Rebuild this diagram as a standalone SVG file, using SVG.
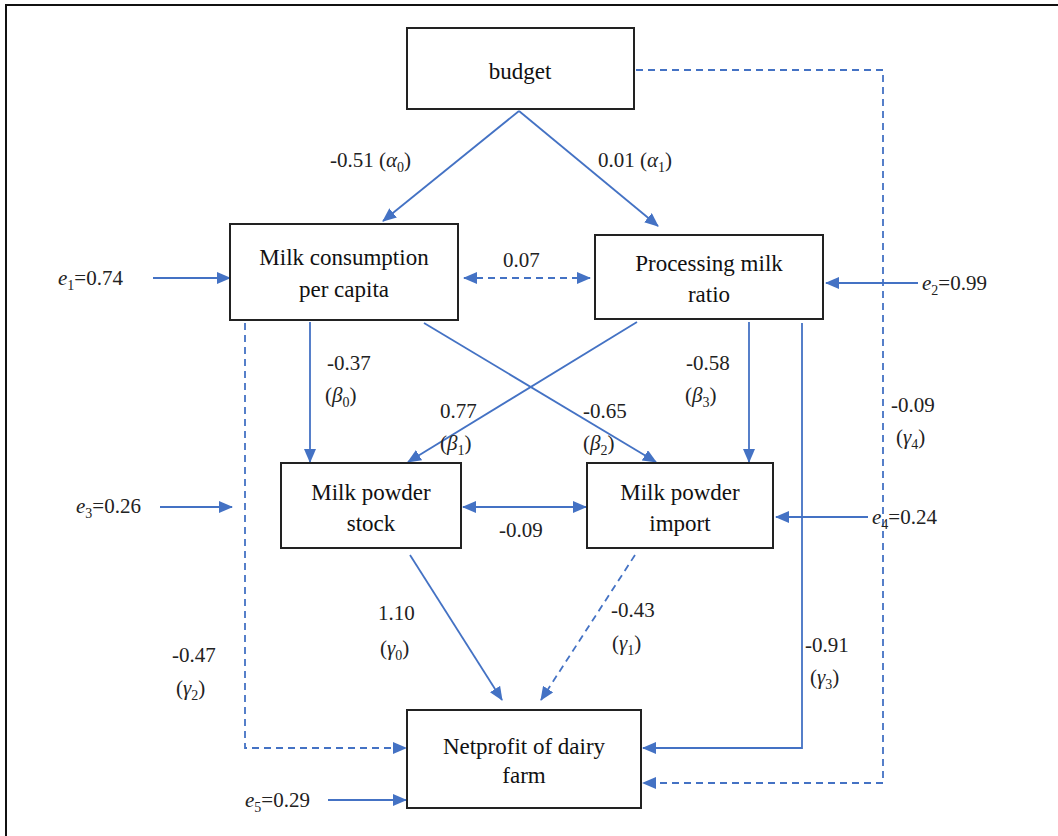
<svg xmlns="http://www.w3.org/2000/svg" width="1058" height="836" viewBox="0 0 1058 836">
<style>
.box{fill:#fff;stroke:#222;stroke-width:2}
.nt{font-family:'Liberation Serif','Times New Roman',serif;font-size:23px;fill:#111;text-anchor:middle}
.lb{font-family:'Liberation Serif','Times New Roman',serif;font-size:21px;fill:#222}
.it{font-style:italic}
.ln{fill:none;stroke:#4472C4;stroke-width:1.8}
.ds{stroke-dasharray:7,5}
</style>
<defs>
<marker id="ah" viewBox="0 0 14 12" refX="13" refY="6" markerWidth="14" markerHeight="12" markerUnits="userSpaceOnUse" orient="auto-start-reverse">
<path d="M0,0 L14,6 L0,12 Z" fill="#4472C4"/>
</marker>
</defs>
<rect width="1058" height="836" fill="#fff"/>
<path d="M6,836 V5 H1058" fill="none" stroke="#111" stroke-width="2"/>

<g id="connectors">
<line class="ln" x1="519" y1="111" x2="383" y2="221" marker-end="url(#ah)"/>
<line class="ln" x1="519" y1="111" x2="658" y2="226" marker-end="url(#ah)"/>
<line class="ln ds" x1="464" y1="278" x2="590" y2="278" marker-start="url(#ah)" marker-end="url(#ah)"/>
<line class="ln" x1="153" y1="278" x2="230" y2="278" marker-end="url(#ah)"/>
<line class="ln" x1="918" y1="283" x2="826" y2="283" marker-end="url(#ah)"/>
<polyline class="ln ds" points="636,70 883,70 883,783 643,783" marker-end="url(#ah)"/>
<polyline class="ln" points="802,323 802,748 643,748" marker-end="url(#ah)"/>
<line class="ln" x1="749" y1="322" x2="749" y2="462" marker-end="url(#ah)"/>
<line class="ln" x1="310" y1="322" x2="310" y2="462" marker-end="url(#ah)"/>
<line class="ln" x1="424" y1="323" x2="656" y2="462" marker-end="url(#ah)"/>
<line class="ln" x1="637" y1="322" x2="408" y2="462" marker-end="url(#ah)"/>
<line class="ln" x1="463" y1="507" x2="586" y2="507" marker-start="url(#ah)" marker-end="url(#ah)"/>
<line class="ln" x1="160" y1="507" x2="232" y2="507" marker-end="url(#ah)"/>
<polyline class="ln ds" points="245,323 245,748 406,748" marker-end="url(#ah)"/>
<line class="ln" x1="868" y1="517" x2="776" y2="517" marker-end="url(#ah)"/>
<line class="ln" x1="410" y1="555" x2="502" y2="700" marker-end="url(#ah)"/>
<line class="ln ds" x1="635" y1="555" x2="541" y2="700" marker-end="url(#ah)"/>
<line class="ln" x1="328" y1="800" x2="406" y2="800" marker-end="url(#ah)"/>
</g>

<g id="budget">
<rect class="box" x="407" y="28" width="227" height="81"/>
<text class="nt" x="520" y="79">budget</text>
</g>
<g id="milk-consumption">
<rect class="box" x="230" y="224" width="228" height="96"/>
<text class="nt" x="344" y="265">Milk consumption</text>
<text class="nt" x="344" y="297">per capita</text>
</g>
<g id="processing-milk">
<rect class="box" x="595" y="235" width="228" height="84"/>
<text class="nt" x="709" y="271">Processing milk</text>
<text class="nt" x="709" y="302">ratio</text>
</g>
<g id="milk-powder-stock">
<rect class="box" x="281" y="463" width="180" height="85"/>
<text class="nt" x="371" y="500">Milk powder</text>
<text class="nt" x="371" y="531">stock</text>
</g>
<g id="milk-powder-import">
<rect class="box" x="587" y="463" width="186" height="85"/>
<text class="nt" x="680" y="500">Milk powder</text>
<text class="nt" x="680" y="531">import</text>
</g>
<g id="netprofit">
<rect class="box" x="407" y="710" width="234" height="98"/>
<text class="nt" x="524" y="754">Netprofit of dairy</text>
<text class="nt" x="524" y="783">farm</text>
</g>

<g id="labels">
<text class="lb" x="330" y="167">-0.51  (<tspan class="it">α</tspan><tspan font-size="14" dy="5">0</tspan><tspan dy="-5">)</tspan></text>
<text class="lb" x="598" y="167">0.01  (<tspan class="it">α</tspan><tspan font-size="14" dy="5">1</tspan><tspan dy="-5">)</tspan></text>
<text class="lb" x="503" y="267">0.07</text>
<text class="lb" x="327" y="370">-0.37</text>
<text class="lb" x="325" y="402">(<tspan class="it">β</tspan><tspan font-size="14" dy="5">0</tspan><tspan dy="-5">)</tspan></text>
<text class="lb" x="686" y="370">-0.58</text>
<text class="lb" x="685" y="402">(<tspan class="it">β</tspan><tspan font-size="14" dy="5">3</tspan><tspan dy="-5">)</tspan></text>
<text class="lb" x="440" y="418">0.77</text>
<text class="lb" x="440" y="450">(<tspan class="it">β</tspan><tspan font-size="14" dy="5">1</tspan><tspan dy="-5">)</tspan></text>
<text class="lb" x="583" y="418">-0.65</text>
<text class="lb" x="583" y="450">(<tspan class="it">β</tspan><tspan font-size="14" dy="5">2</tspan><tspan dy="-5">)</tspan></text>
<text class="lb" x="891" y="412">-0.09</text>
<text class="lb" x="896" y="444">(<tspan class="it">γ</tspan><tspan font-size="14" dy="5">4</tspan><tspan dy="-5">)</tspan></text>
<text class="lb" x="499" y="537">-0.09</text>
<text class="lb" x="378" y="620">1.10</text>
<text class="lb" x="380" y="655">(<tspan class="it">γ</tspan><tspan font-size="14" dy="5">0</tspan><tspan dy="-5">)</tspan></text>
<text class="lb" x="611" y="617">-0.43</text>
<text class="lb" x="612" y="650">(<tspan class="it">γ</tspan><tspan font-size="14" dy="5">1</tspan><tspan dy="-5">)</tspan></text>
<text class="lb" x="172" y="662">-0.47</text>
<text class="lb" x="176" y="695">(<tspan class="it">γ</tspan><tspan font-size="14" dy="5">2</tspan><tspan dy="-5">)</tspan></text>
<text class="lb" x="805" y="652">-0.91</text>
<text class="lb" x="810" y="684">(<tspan class="it">γ</tspan><tspan font-size="14" dy="5">3</tspan><tspan dy="-5">)</tspan></text>
<text class="lb" x="58" y="285"><tspan class="it">e</tspan><tspan font-size="14" dy="5">1</tspan><tspan dy="-5">=0.74</tspan></text>
<text class="lb" x="922" y="290"><tspan class="it">e</tspan><tspan font-size="14" dy="5">2</tspan><tspan dy="-5">=0.99</tspan></text>
<text class="lb" x="76" y="513"><tspan class="it">e</tspan><tspan font-size="14" dy="5">3</tspan><tspan dy="-5">=0.26</tspan></text>
<text class="lb" x="872" y="524"><tspan class="it">e</tspan><tspan font-size="14" dy="5">4</tspan><tspan dy="-5">=0.24</tspan></text>
<text class="lb" x="245" y="807"><tspan class="it">e</tspan><tspan font-size="14" dy="5">5</tspan><tspan dy="-5">=0.29</tspan></text>
</g>
</svg>
